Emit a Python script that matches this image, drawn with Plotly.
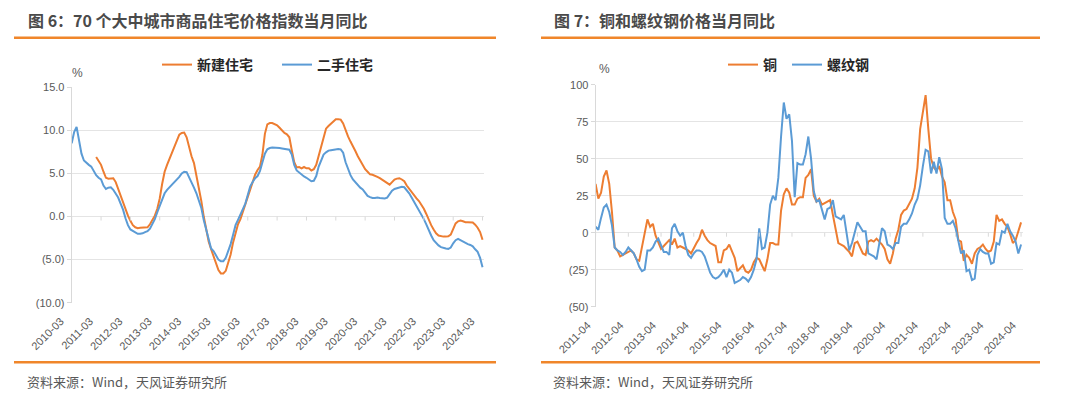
import plotly.graph_objects as go
import pandas as pd

# ---------------- data ----------------
months_left = list(pd.period_range("2010-03", periods=169, freq="M").strftime("%Y-%m"))
ticks_left = ["2010-03", "2011-03", "2012-03", "2013-03", "2014-03", "2015-03", "2016-03",
              "2017-03", "2018-03", "2019-03", "2020-03", "2021-03", "2022-03", "2023-03", "2024-03"]

new_home = [None] * 10 + [
    6.9, 6.5, 6.0, 5.2, 4.5, 4.4, 4.4, 4.45, 4.0, 3.2,
    2.4, 1.6, 0.8, 0.1, -0.5, -1.0, -1.25, -1.35, -1.3, -1.28,
    -1.28, -1.25, -0.9, -0.4, 0.1, 0.9, 2.1, 3.8, 5.2, 6.0,
    6.7, 7.4, 8.1, 8.9, 9.5, 9.7, 9.75, 9.2, 7.9, 7.0,
    6.2, 4.8, 3.4, 1.8, 0.0, -1.6, -2.9, -3.8, -4.6, -5.5,
    -6.2, -6.6, -6.6, -6.3, -5.4, -4.4, -3.0, -1.8, -0.9, -0.3,
    0.6, 1.3, 2.2, 3.1, 4.0, 4.85, 5.4, 5.8, 7.2, 9.6,
    10.7, 10.85, 10.85, 10.75, 10.6, 10.3, 9.95, 9.7, 9.55, 9.2,
    7.7, 6.3, 5.7, 5.75, 5.6, 5.75, 5.6, 5.6, 5.35, 5.5,
    6.0, 7.1, 8.3, 9.4, 10.2, 10.5, 10.8, 11.0, 11.3, 11.3,
    11.25, 10.8, 10.0, 9.3, 8.7, 8.2, 7.6, 7.0, 6.5, 6.0,
    5.5, 5.2, 4.9, 4.85, 4.75, 4.6, 4.45, 4.25, 4.05, 3.9,
    3.7, 4.0, 4.3, 4.4, 4.45, 4.3, 4.1, 3.6, 3.2, 2.8,
    2.5, 2.1, 1.8, 1.4, 0.9, 0.3, -0.4, -1.0, -1.5, -1.95,
    -2.2, -2.3, -2.33, -2.33, -2.3, -2.1, -1.5, -0.8, -0.55, -0.47,
    -0.55, -0.65, -0.65, -0.65, -0.7, -0.95, -1.3, -1.8, -2.7,
]

second_home = [
    8.5, 9.8, 10.4, 8.8, 7.3, 6.5, 6.2, 6.0, 5.8, 5.3,
    4.8, 4.5, 4.3, 3.6, 3.2, 3.35, 3.4, 3.1, 2.7, 2.2,
    1.5, 0.8, -0.2, -1.0, -1.5, -1.7, -1.9, -2.0, -2.0, -1.95,
    -1.8, -1.7, -1.4, -0.9, -0.3, 0.5, 1.3, 2.1, 2.7, 3.1,
    3.4, 3.7, 3.95, 4.27, 4.6, 5.0, 5.2, 5.15, 4.6, 3.9,
    3.35, 2.7, 1.9, 1.0, -0.4, -1.6, -2.8, -3.7, -4.0, -4.5,
    -5.0, -5.2, -5.2, -4.8, -4.0, -3.2, -2.1, -1.0, -0.4, 0.3,
    0.8, 1.5, 2.5, 3.5, 4.0, 4.45, 4.7, 5.3, 6.3, 7.3,
    7.8, 7.95, 8.0, 8.0, 8.0, 7.95, 7.9, 7.85, 7.8, 7.75,
    7.2, 6.0, 5.35, 5.1, 4.85, 4.65, 4.5, 4.3, 4.1, 4.15,
    4.7, 5.8, 6.6, 7.2, 7.45, 7.65, 7.7, 7.76, 7.8, 7.85,
    7.8, 7.4, 6.3, 5.5, 4.8, 4.3, 3.95, 3.6, 3.35, 3.15,
    2.7, 2.4, 2.25, 2.15, 2.15, 2.2, 2.15, 2.1, 2.1, 2.2,
    2.6, 3.0, 3.2, 3.3, 3.4, 3.45, 3.4, 3.1, 2.7, 2.2,
    1.7, 1.3, 0.8, 0.3, -0.3, -0.9, -1.6, -2.2, -2.75, -3.1,
    -3.35, -3.55, -3.65, -3.7, -3.75, -3.6, -3.1, -2.75, -2.6, -2.75,
    -2.95, -3.1, -3.2, -3.3, -3.45, -3.8, -4.1, -4.8, -5.9,
]

months_right = list(pd.period_range("2011-04", periods=157, freq="M").strftime("%Y-%m"))
ticks_right = ["2011-04", "2012-04", "2013-04", "2014-04", "2015-04", "2016-04", "2017-04",
               "2018-04", "2019-04", "2020-04", "2021-04", "2022-04", "2023-04", "2024-04"]

copper = [
    33, 23, 27, 38, 42, 33, 14, -10, -12, -16,
    -15, -14, -13, -12, -14, -18, -19, -10, -2, 9,
    4, 6, -2, -7, -11, -9, -7, -5, -8, -4,
    -10, -9, -10, -11, -12, -14, -10, -7, -4, 2,
    -2, -5, -7, -8, -9, -20, -20, -12, -11, -8,
    -13, -17, -26, -24, -22, -26, -27, -25, -20, -17,
    -18, -22, -26, -18, -7, -7, -8, -8, 15, 26,
    30, 27, 19, 19, 23, 24, 24, 37, 39, 43,
    25, 21, 23, 19, 20, 21, 22, 12, 3, -7,
    -8, -9, -11, -13, -16, -7, -6, -10, -14, -15,
    -6, -5, -6, -4, -6, -8, -11, -18, -21, -14,
    -4, 2, 12, 15, 16, 20, 23, 30, 44, 70,
    83, 93, 70, 50, 44, 42, 45, 38, 34, 22,
    22, 14, 9, -5, -6, -19, -15, -17, -21, -14,
    -11, -10, -8, -11, -13, -12, -6, 12, 8, 9,
    6, 4, -1, -7, -5, 1, 7,
]

rebar = [
    4, 2, 10, 17, 19, 14, 5, -10, -12, -13,
    -15, -13, -10, -12, -14, -18, -23, -26, -25, -12,
    -12, -10, -6, -4, -9, -13, -13, -15, 3, 6,
    1, -2, 0, -9, -15, -17, -14, -12, -12, -13,
    -16, -22, -27, -30, -31, -30, -28, -25, -30, -25,
    -27, -34, -33, -32, -30, -31, -33, -30, -25, -18,
    3, -11, -10, 0, 19, 25, 22, 37, 65, 88,
    77, 80, 62, 24, 47, 46, 46, 53, 65, 50,
    28, 21, 22, 16, 9, 16, 17, 22, 11, 10,
    9, 12, 1, -12, -7, 1, 7, 4, 1, 1,
    -14, -15, -16, -18, -6, 3, 1, -8, -9, -11,
    -7, -7, 4, 6, 6, 9, 13, 19, 23, 32,
    45, 56, 55, 40, 48, 40, 51, 43, 10, 6,
    6, 8, 3, -5, -14, -12, -26, -25, -32, -31,
    -15, -11, -13, -14, -14, -21, -20, -7, -8, 1,
    0, 6, 1, -2, -6, -14, -8,
]

y_left_vals = [-10, -5, 0, 5, 10, 15]
y_left_text = ["(10.0)", "(5.0)", "0.0", "5.0", "10.0", "15.0"]
y_right_vals = [-50, -25, 0, 25, 50, 75, 100]
y_right_text = ["(50)", "(25)", "0", "25", "50", "75", "100"]

# ---------------- styling ----------------
W, H = 1080, 394
ORANGE = "#ED7D31"
BLUE = "#5B9BD5"
RULE = "#F0862A"
GRID = "#E4E4E4"
AXIS = "#D9D9D9"
TXT = "#595959"
FONT = "Liberation Sans, Noto Sans CJK SC, sans-serif"
CJK = "Noto Sans CJK SC, sans-serif"


def px(xp):
    return xp / W


def py(yp):
    return 1 - yp / H


fig = go.Figure()
fig.add_trace(go.Scatter(x=months_left, y=new_home, name="新建住宅", mode="lines",
                         line=dict(color=ORANGE, width=2), xaxis="x", yaxis="y", legend="legend"))
fig.add_trace(go.Scatter(x=months_left, y=second_home, name="二手住宅", mode="lines",
                         line=dict(color=BLUE, width=2), xaxis="x", yaxis="y", legend="legend"))
fig.add_trace(go.Scatter(x=months_right, y=copper, name="铜", mode="lines",
                         line=dict(color=ORANGE, width=2), xaxis="x2", yaxis="y2", legend="legend2"))
fig.add_trace(go.Scatter(x=months_right, y=rebar, name="螺纹钢", mode="lines",
                         line=dict(color=BLUE, width=2), xaxis="x2", yaxis="y2", legend="legend3"))

xcommon = dict(type="category", showgrid=False, zeroline=False, showline=False, ticks="",
               tickangle=-45, automargin=False, ticklabelstandoff=9,
               tickfont=dict(family=FONT, size=11, color=TXT))
ycommon = dict(showgrid=True, gridcolor=GRID, gridwidth=1, zeroline=False, showline=True,
               linecolor=AXIS, linewidth=1, ticks="outside", ticklen=4, tickcolor=AXIS,
               automargin=False, tickfont=dict(family=FONT, size=11, color=TXT))

legfont = dict(family=CJK, size=14, color="#262626", weight="bold")
fig.update_layout(
    width=W, height=H, margin=dict(l=0, r=0, t=0, b=0, autoexpand=False),
    paper_bgcolor="white", plot_bgcolor="white",
    font=dict(family=FONT, color=TXT),
    xaxis=dict(xcommon, domain=[px(71.7), px(484)], range=[0, 168.6], ticklabelshift=-11,
               tickvals=ticks_left, ticktext=ticks_left, anchor="y"),
    yaxis=dict(ycommon, domain=[py(302.7), py(87.3)], range=[-10, 15],
               tickvals=y_left_vals, ticktext=y_left_text, anchor="x"),
    xaxis2=dict(xcommon, domain=[px(595.6), px(1022.7)], range=[0, 156.6], ticklabelshift=-8,
                tickvals=ticks_right, ticktext=ticks_right, anchor="y2"),
    yaxis2=dict(ycommon, domain=[py(306.7), py(84.7)], range=[-50, 100],
                tickvals=y_right_vals, ticktext=y_right_text, anchor="x2"),
    legend=dict(orientation="h", x=px(157), y=py(65), xanchor="left", yanchor="middle",
                font=legfont, itemwidth=30, entrywidth=75, entrywidthmode="pixels",
                bgcolor="rgba(0,0,0,0)"),
    legend2=dict(orientation="h", x=px(723), y=py(65), xanchor="left", yanchor="middle",
                 font=legfont, itemwidth=30, bgcolor="rgba(0,0,0,0)"),
    legend3=dict(orientation="h", x=px(787), y=py(65), xanchor="left", yanchor="middle",
                 font=legfont, itemwidth=30, bgcolor="rgba(0,0,0,0)"),
)

shapes = []
# orange rules
for x0, x1 in [(14, 496), (541, 1040)]:
    for yy in (37.7, 362.3):
        shapes.append(dict(type="line", xref="paper", yref="paper", x0=px(x0), x1=px(x1),
                           y0=py(yy), y1=py(yy), line=dict(color=RULE, width=2.5)))
# small tick marks on the zero line
for cats, ticks, xr, yr in [(months_left, ticks_left, "x", "y"), (months_right, ticks_right, "x2", "y2")]:
    for t in ticks:
        i = cats.index(t)
        shapes.append(dict(type="line", xref=xr, yref=yr, x0=i, x1=i, ysizemode="pixel",
                           yanchor=0, y0=0, y1=-4, line=dict(color=AXIS, width=1)))
fig.update_layout(shapes=shapes)

ann = []
ann.append(dict(text="图 6：70 个大中城市商品住宅价格指数当月同比", x=px(26), y=py(20.5), xref="paper",
                yref="paper", xanchor="left", yanchor="middle", showarrow=False,
                font=dict(family=CJK, size=16, color="#4a4a4a", weight="bold")))
ann.append(dict(text="图 7：铜和螺纹钢价格当月同比", x=px(552), y=py(20.5), xref="paper",
                yref="paper", xanchor="left", yanchor="middle", showarrow=False,
                font=dict(family=CJK, size=16, color="#4a4a4a", weight="bold")))
for xs in (25, 551):
    ann.append(dict(text="资料来源：Wind，天风证券研究所", x=px(xs), y=py(381.5), xref="paper",
                    yref="paper", xanchor="left", yanchor="middle", showarrow=False,
                    font=dict(family=CJK, size=13, color=TXT)))
ann.append(dict(text="%", x=px(78), y=py(72.5), xref="paper", yref="paper", xanchor="center",
                yanchor="middle", showarrow=False, font=dict(family=FONT, size=12, color=TXT)))
ann.append(dict(text="%", x=px(604), y=py(68.5), xref="paper", yref="paper", xanchor="center",
                yanchor="middle", showarrow=False, font=dict(family=FONT, size=12, color=TXT)))
fig.update_layout(annotations=ann)

fig.write_html("out.html", config={"displayModeBar": False},
               post_script="document.body.style.margin='0';document.body.style.padding='0';"
                           "document.body.style.overflow='hidden';")
